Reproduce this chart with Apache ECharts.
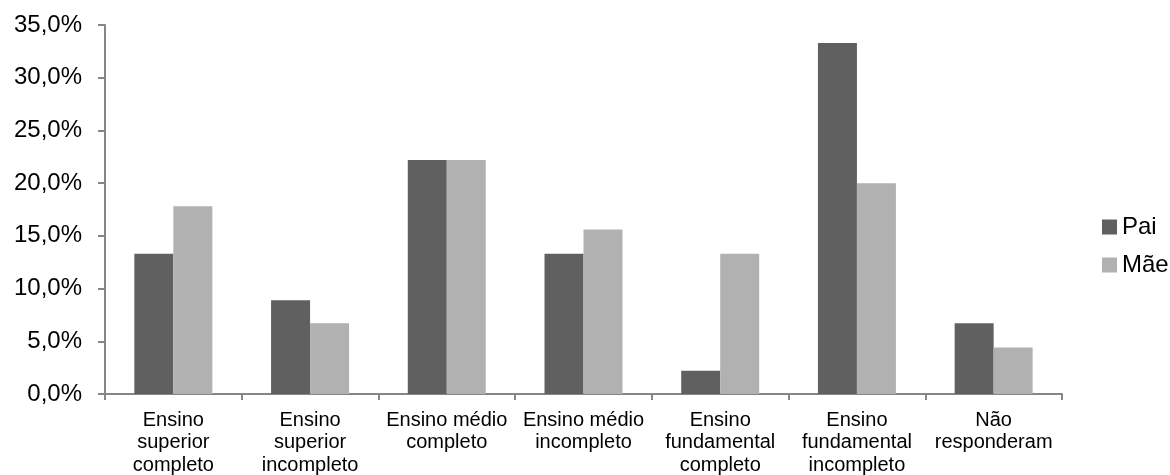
<!DOCTYPE html>
<html>
<head>
<meta charset="utf-8">
<script src="https://cdn.jsdelivr.net/npm/echarts@6/dist/echarts.min.js"></script>
<style>
  html, body { margin: 0; padding: 0; background: #fff; }
  #chart { width: 1170px; height: 475px; }
</style>
</head>
<body>
<div id="chart"></div>
<script>
// Escolaridade dos pais (%)
const categories = [
  'Ensino\nsuperior\ncompleto',
  'Ensino\nsuperior\nincompleto',
  'Ensino médio\ncompleto',
  'Ensino médio\nincompleto',
  'Ensino\nfundamental\ncompleto',
  'Ensino\nfundamental\nincompleto',
  'Não\nresponderam'
];
const seriesNames = ['Pai', 'Mãe'];
const pai = [13.3, 8.9, 22.2, 13.3, 2.2, 33.3, 6.7];
const mae = [17.8, 6.7, 22.2, 15.6, 13.3, 20.0, 4.4];
const yTicks = { min: 0, max: 35, interval: 5 };

const fmtPct = v => v.toFixed(1).replace('.', ',') + '%';
const font = 'Liberation Sans, Arial, sans-serif';
const axisColor = '#868686';

const chart = echarts.init(document.getElementById('chart'), null, { renderer: 'canvas' });
chart.setOption({
  animation: false,
  backgroundColor: '#ffffff',
  grid: {
    left: 105, right: 108, top: 25, bottom: 81,
    containLabel: false,
    outerBoundsMode: 'none'
  },
  legend: {
    orient: 'vertical',
    left: 1102,
    top: 215,
    padding: 0,
    itemWidth: 15,
    itemHeight: 15,
    itemGap: 14,
    icon: 'rect',
    textStyle: { fontFamily: font, fontSize: 24, color: '#000' },
    data: seriesNames
  },
  xAxis: {
    type: 'category',
    data: categories,
    axisLine: { lineStyle: { color: axisColor, width: 2 } },
    axisTick: { show: true, length: 6, lineStyle: { color: axisColor, width: 2 }, alignWithLabel: false },
    axisLabel: {
      interval: 0,
      margin: 15,
      fontFamily: font,
      fontSize: 20,
      lineHeight: 22.5,
      color: '#000'
    }
  },
  yAxis: {
    type: 'value',
    min: yTicks.min,
    max: yTicks.max,
    interval: yTicks.interval,
    axisLine: { show: true, lineStyle: { color: axisColor, width: 2 } },
    axisTick: { show: true, length: 7, lineStyle: { color: axisColor, width: 2 } },
    splitLine: { show: false },
    axisLabel: {
      formatter: fmtPct,
      margin: 23,
      fontFamily: font,
      fontSize: 24,
      color: '#000'
    }
  },
  series: [
    {
      name: seriesNames[0],
      type: 'bar',
      data: pai,
      barWidth: 39,
      barGap: '0%',
      itemStyle: { color: '#606060' }
    },
    {
      name: seriesNames[1],
      type: 'bar',
      data: mae,
      barWidth: 39,
      barGap: '0%',
      itemStyle: { color: '#b1b1b1' }
    }
  ]
});
</script>
</body>
</html>
